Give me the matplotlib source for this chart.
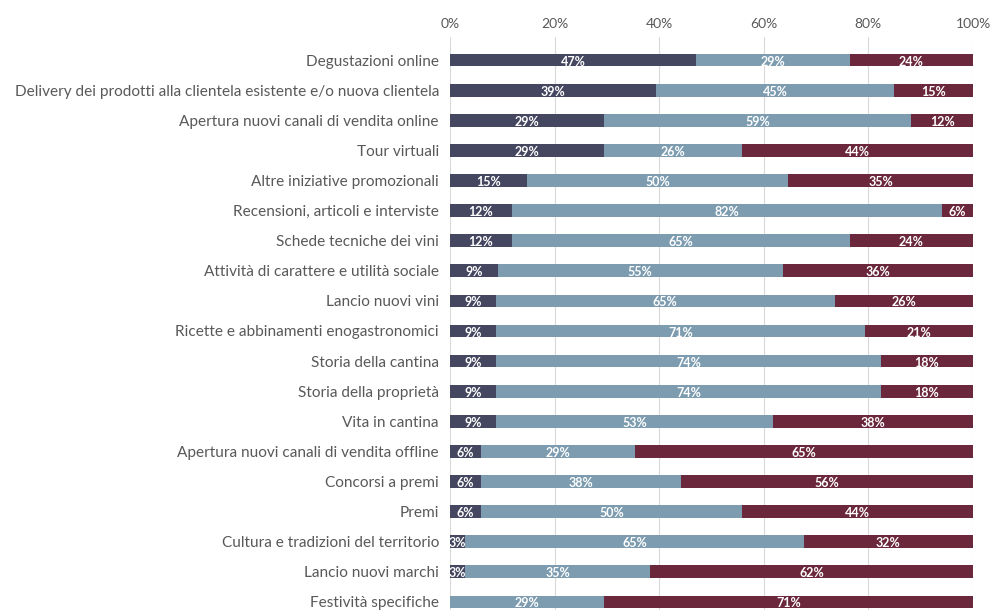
import numpy as np
import matplotlib.pyplot as plt
from matplotlib.ticker import FuncFormatter

plt.rcParams['font.family'] = ['Lato', 'DejaVu Sans']

categories = ['Degustazioni online',
              'Delivery dei prodotti alla clientela esistente e/o nuova clientela',
              'Apertura nuovi canali di vendita online',
              'Tour virtuali',
              'Altre iniziative promozionali',
              'Recensioni, articoli e interviste',
              'Schede tecniche dei vini',
              'Attività di carattere e utilità sociale',
              'Lancio nuovi vini',
              'Ricette e abbinamenti enogastronomici',
              'Storia della cantina',
              'Storia della proprietà',
              'Vita in cantina',
              'Apertura nuovi canali di vendita offline',
              'Concorsi a premi',
              'Premi',
              'Cultura e tradizioni del territorio',
              'Lancio nuovi marchi',
              'Festività specifiche']
serie_1 = [47.06, 39.39, 29.41, 29.41, 14.71, 11.76, 11.76, 9.09, 8.82, 8.82,
           8.82, 8.82, 8.82, 5.88, 5.88, 5.88, 2.94, 2.94, 0.0]
serie_2 = [29.41, 45.45, 58.82, 26.47, 50.00, 82.35, 64.71, 54.55, 64.71, 70.59,
           73.53, 73.53, 52.94, 29.41, 38.24, 50.00, 64.71, 35.29, 29.41]
serie_3 = [23.53, 15.15, 11.76, 44.12, 35.29, 5.88, 23.53, 36.36, 26.47, 20.59,
           17.65, 17.65, 38.24, 64.71, 55.88, 44.12, 32.35, 61.76, 70.59]

colors = ['#45465f', '#7d9cb0', '#6b283d']

fig = plt.figure(figsize=(9.9, 6.1), dpi=100)
ax = fig.add_axes([450/990, -15/610, 523/990, (625-37)/610])

y = np.arange(len(categories))
left = np.zeros(len(categories))
for vals, col in zip([serie_1, serie_2, serie_3], colors):
    vals = np.array(vals, dtype=float)
    ax.barh(y, vals, left=left, height=0.42, color=col, zorder=3)
    for yi, l, v in zip(y, left, vals):
        if v > 0:
            ax.text(l + v/2, yi + 0.05, f'{v:.0f}%', ha='center', va='center',
                    color='white', fontsize=9, fontweight='bold', zorder=4)
    left += vals

ax.set_xlim(0, 100)
ax.set_ylim(len(categories) - 1 + 0.77, -0.77)
ax.set_yticks(y)
ax.set_yticklabels(categories, fontsize=11.1, color='#595959')
ax.set_xticks(np.arange(0, 101, 20))
ax.xaxis.set_major_formatter(FuncFormatter(lambda v, p: f'{int(v)}%'))
ax.xaxis.tick_top()
ax.tick_params(axis='x', labelsize=10, labelcolor='#595959', length=0, pad=5)
ax.tick_params(axis='y', length=0, pad=8)
ax.grid(axis='x', color='#d9d9d9', linewidth=0.8, zorder=0)
for s in ax.spines.values():
    s.set_visible(False)

plt.savefig('out.png', dpi=100)
